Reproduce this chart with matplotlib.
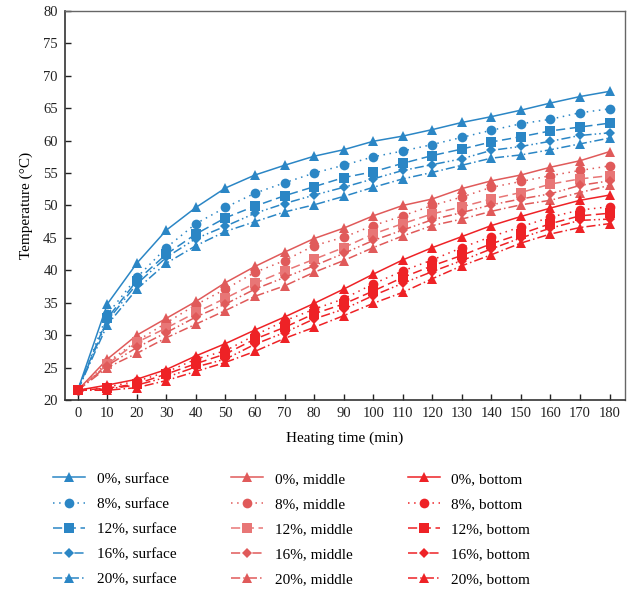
import matplotlib
matplotlib.use("Agg")
import matplotlib.pyplot as plt

plt.rcParams['font.family'] = ['Liberation Serif', 'DejaVu Serif']

# heating time (min)
time = [0, 10, 20, 30, 40, 50, 60, 70, 80, 90, 100, 110, 120, 130, 140, 150, 160, 170, 180]

# surface
s0 = [21.5, 34.8, 41.1, 46.2, 49.7, 52.7, 54.7, 56.2, 57.6, 58.6, 59.9, 60.7, 61.7, 62.8, 63.7, 64.7, 65.8, 66.8, 67.6]
s8 = [21.5, 33.2, 38.9, 43.5, 47.2, 49.7, 51.9, 53.5, 55.0, 56.2, 57.5, 58.4, 59.4, 60.5, 61.6, 62.6, 63.3, 64.3, 64.9]
s12 = [21.5, 32.6, 38.4, 42.5, 45.6, 48.1, 49.9, 51.5, 52.9, 54.3, 55.2, 56.5, 57.7, 58.7, 59.8, 60.6, 61.5, 62.1, 62.7]
s16 = [21.5, 32.2, 37.9, 42.0, 44.9, 46.8, 48.8, 50.3, 51.6, 52.8, 54.1, 55.4, 56.3, 57.2, 58.5, 59.1, 59.9, 60.8, 61.2]
s20 = [21.5, 31.6, 37.1, 41.1, 43.8, 46.0, 47.5, 49.0, 50.1, 51.4, 52.8, 54.1, 55.1, 56.2, 57.3, 57.8, 58.6, 59.5, 60.4]

# middle
m0 = [21.5, 26.3, 30.0, 32.6, 35.2, 38.1, 40.6, 42.8, 44.9, 46.5, 48.4, 50.0, 51.0, 52.6, 53.8, 54.7, 55.9, 56.9, 58.3]
m8 = [21.5, 25.8, 29.1, 31.9, 34.7, 37.1, 39.7, 41.5, 43.8, 45.1, 46.9, 48.4, 50.0, 51.3, 52.8, 53.7, 54.6, 55.4, 56.1]
m12 = [21.5, 25.5, 28.9, 31.1, 33.5, 35.7, 38.0, 39.9, 41.7, 43.5, 45.6, 47.2, 48.7, 49.8, 51.0, 52.0, 53.3, 54.1, 54.6]
m16 = [21.5, 25.3, 28.1, 30.4, 32.8, 34.8, 37.1, 38.9, 40.7, 42.6, 44.6, 46.2, 47.8, 48.9, 50.1, 51.0, 51.8, 53.1, 53.8]
m20 = [21.5, 25.0, 27.2, 29.6, 31.7, 33.8, 36.0, 37.6, 39.7, 41.5, 43.5, 45.3, 46.9, 47.9, 49.1, 50.1, 50.8, 52.0, 53.1]

# bottom
b0 = [21.5, 22.3, 23.2, 24.7, 26.8, 28.7, 30.8, 32.8, 34.9, 37.1, 39.4, 41.6, 43.5, 45.2, 46.9, 48.3, 49.6, 50.8, 51.6]
b8 = [21.5, 22.0, 22.9, 24.3, 26.3, 27.6, 30.0, 32.2, 34.0, 35.6, 37.9, 39.9, 41.6, 43.5, 45.2, 46.7, 48.2, 49.3, 49.8]
b12 = [21.5, 21.8, 22.5, 24.0, 25.6, 27.1, 29.4, 31.2, 33.3, 34.8, 36.8, 38.9, 40.7, 42.3, 44.1, 45.6, 47.2, 48.4, 48.8]
b16 = [21.5, 21.7, 22.3, 23.5, 25.1, 26.3, 28.6, 30.4, 32.5, 34.0, 36.1, 38.0, 39.8, 41.5, 43.3, 45.0, 46.5, 47.7, 47.9]
b20 = [21.5, 21.5, 21.9, 23.0, 24.4, 25.8, 27.5, 29.5, 31.2, 33.0, 34.9, 36.6, 38.7, 40.7, 42.4, 44.2, 45.6, 46.6, 47.2]

contents = ['0%', '8%', '12%', '16%', '20%']
positions = ['surface', 'middle', 'bottom']
series = {
    'surface': [s0, s8, s12, s16, s20],
    'middle': [m0, m8, m12, m16, m20],
    'bottom': [b0, b8, b12, b16, b20],
}

colors = {
    'surface': ['#2b86c5'] * 5,
    'middle': ['#e05a5a', '#e05a5a', '#e87676', '#e05a5a', '#e05a5a'],
    'bottom': ['#ee2226'] * 5,
}
markers = ['^', 'o', 's', 'D', '^']
msizes = [7, 7, 7, 5, 7]
styles = ['-', (0, (1, 3)), (0, (6, 3)), (0, (6, 2, 1, 2, 1, 2)), (0, (6, 2, 1, 2))]

fig = plt.figure(figsize=(6.35, 5.93), dpi=100)
ax = fig.add_axes([0.102, 0.3255, 0.883, 0.656])

for pos in positions:
    for i, c in enumerate(contents):
        ax.plot(time, series[pos][i], color=colors[pos][i], linestyle=styles[i],
                linewidth=1.1, marker=markers[i], markersize=msizes[i],
                markeredgewidth=0, label=f'{c}, {pos}')

ax.set_xlim(-4.4, 185.4)
ax.set_ylim(20, 80)
ax.set_xticks(time)
ax.set_yticks(range(20, 81, 5))
ax.tick_params(direction='in', length=4, width=1, labelsize=10.5, colors='#222222', pad=5)
for side in ['left', 'bottom']:
    ax.spines[side].set_color('#333333')
    ax.spines[side].set_linewidth(1.2)
for side in ['top', 'right']:
    ax.spines[side].set_color('#666666')
    ax.spines[side].set_linewidth(1.0)

ax.set_xlabel('Heating time (min)', fontsize=11, labelpad=8)
ax.set_ylabel('Temperature (°C)', fontsize=11, labelpad=7)

handles, labels = ax.get_legend_handles_labels()
fig.legend(handles, labels, ncol=3, loc='lower left', bbox_to_anchor=(0.062, -0.012),
           frameon=False, fontsize=11, handlelength=2.1, handletextpad=0.75,
           columnspacing=3.6, labelspacing=0.75)

fig.savefig('out.png', dpi=100)
